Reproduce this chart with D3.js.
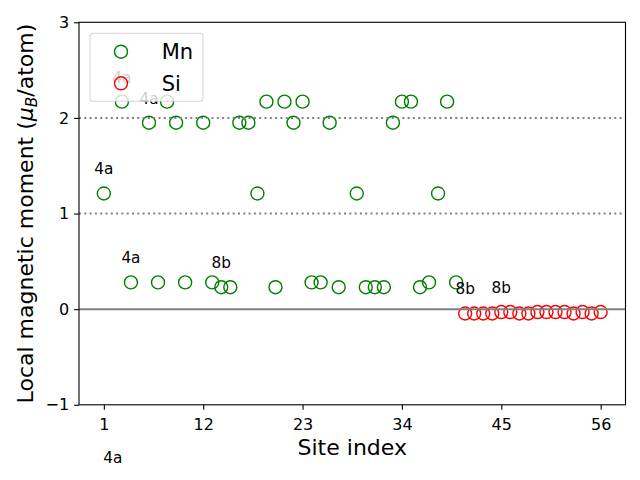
<!DOCTYPE html>
<html>
<head>
<meta charset="utf-8">
<script src="https://cdn.jsdelivr.net/npm/d3@7"></script>
<style>
  html, body { margin: 0; padding: 0; background: #fff; }
  svg { display: block; font-family: "DejaVu Sans", sans-serif; }
</style>
</head>
<body>
<svg id="chart" width="640" height="480"></svg>
<script>
// ---- data ----
const mnSites = [1,2,3,4,6,7,8,9,10,12,13,14,15,16,17,18,19,20,21,22,23,24,25,26,27,29,30,31,32,33,34,35,36,37,38,39,40];
const mnValues = [1.21,-1.81,2.17,0.28,1.95,0.28,2.17,1.95,0.28,1.95,0.28,0.23,0.23,1.95,1.95,1.21,2.17,0.23,2.17,1.95,2.17,0.28,0.28,1.95,0.23,1.21,0.23,0.23,0.23,1.95,2.17,2.17,0.23,0.28,1.21,2.17,0.28];
const siSites = [41,42,43,44,45,46,47,48,49,50,51,52,53,54,55,56];
const siValues = [-0.045,-0.045,-0.045,-0.045,-0.03,-0.03,-0.045,-0.045,-0.03,-0.03,-0.03,-0.03,-0.045,-0.03,-0.045,-0.03];
const labelSites = [1,2,3,4,6,14,41,45];
const labelTexts = ["4a","4a","4a","4a","4a","8b","8b","8b"];
const xTicks = [1,12,23,34,45,56];
const yTicks = [-1,0,1,2,3];
const refLinesDotted = [1,2];
const refLineSolid = 0;
const seriesNames = ["Mn","Si"];
const seriesColors = ["green","red"];

// ---- layout ----
const svg = d3.select("#chart");
const L = 79, R = 625.5, T = 22.3, B = 404.8;
const x = d3.scaleLinear().domain([-1.75, 58.75]).range([L, R]);
const y = d3.scaleLinear().domain([-1, 3]).range([B, T]);

svg.append("defs").append("clipPath").attr("id", "plotclip")
  .append("rect").attr("x", L).attr("y", T).attr("width", R - L).attr("height", B - T);

const plot = svg.append("g").attr("clip-path", "url(#plotclip)");

const mnData = mnSites.map((s, i) => ({site: s, v: mnValues[i]}));
const siData = siSites.map((s, i) => ({site: s, v: siValues[i]}));

const R0 = 6.5;
plot.selectAll("circle.mn").data(mnData).join("circle")
  .attr("class", "mn")
  .attr("cx", d => x(d.site)).attr("cy", d => y(d.v)).attr("r", R0)
  .attr("fill", "none").attr("stroke", seriesColors[0]).attr("stroke-width", 1.4);
plot.selectAll("circle.si").data(siData).join("circle")
  .attr("class", "si")
  .attr("cx", d => x(d.site)).attr("cy", d => y(d.v)).attr("r", R0)
  .attr("fill", "none").attr("stroke", seriesColors[1]).attr("stroke-width", 1.4);

// reference lines
plot.selectAll("line.dot").data(refLinesDotted).join("line")
  .attr("x1", L).attr("x2", R).attr("y1", d => y(d)).attr("y2", d => y(d))
  .attr("stroke", "gray").attr("stroke-width", 2).attr("stroke-dasharray", "2,3.3");
plot.append("line")
  .attr("x1", L).attr("x2", R).attr("y1", y(refLineSolid)).attr("y2", y(refLineSolid))
  .attr("stroke", "gray").attr("stroke-width", 2);

// annotations (text not clipped)
const allData = mnData.concat(siData);
const labels = labelSites.map((s, i) => ({site: s, text: labelTexts[i], v: allData.find(d => d.site === s).v}));
svg.append("g").selectAll("text").data(labels).join("text")
  .attr("x", d => x(d.site)).attr("y", d => y(d.v + 0.2))
  .attr("text-anchor", "middle").attr("font-size", 15.3).attr("fill", "#000")
  .text(d => d.text);

// frame
svg.append("rect").attr("x", L).attr("y", T).attr("width", R - L).attr("height", B - T)
  .attr("fill", "none").attr("stroke", "#000").attr("stroke-width", 1.1);

// axes
const xAxis = svg.append("g").attr("transform", `translate(0,${B})`)
  .call(d3.axisBottom(x).tickValues(xTicks).tickSize(4.9).tickPadding(5));
const yAxis = svg.append("g").attr("transform", `translate(${L},0)`)
  .call(d3.axisLeft(y).tickValues(yTicks).tickSize(4.9).tickPadding(5).tickFormat(d => d < 0 ? "\u2212" + Math.abs(d) : d));
[xAxis, yAxis].forEach(a => {
  a.select(".domain").remove();
  a.selectAll("line").attr("stroke", "#000").attr("stroke-width", 1.1);
  a.selectAll("text").attr("font-size", 16).attr("fill", "#000").attr("font-family", "DejaVu Sans");
});
xAxis.selectAll("text").attr("dy", "0.95em");

// axis labels
svg.append("text").attr("x", (L + R) / 2).attr("y", 455).attr("text-anchor", "middle")
  .attr("font-size", 22).text("Site index");
const yl = svg.append("text").attr("transform", `translate(33,${(T + B) / 2}) rotate(-90)`)
  .attr("text-anchor", "middle").attr("font-size", 22);
yl.append("tspan").text("Local magnetic moment (");
yl.append("tspan").attr("font-style", "italic").text("\u03bc");
yl.append("tspan").attr("font-style", "italic").attr("font-size", 15.4).attr("dy", 4).text("B");
yl.append("tspan").attr("dy", -4).text("/atom)");

// legend
const lg = svg.append("g");
lg.append("rect").attr("x", 90).attr("y", 33.3).attr("width", 113).attr("height", 68).attr("rx", 3)
  .attr("fill", "#fff").attr("fill-opacity", 0.8).attr("stroke", "#cccccc").attr("stroke-opacity", 0.8).attr("stroke-width", 1.1);
const lgY = [51.7, 83.3];
seriesNames.forEach((n, i) => {
  lg.append("circle").attr("cx", 121).attr("cy", lgY[i]).attr("r", R0)
    .attr("fill", "none").attr("stroke", seriesColors[i]).attr("stroke-width", 1.4);
  lg.append("text").attr("x", 161.7).attr("y", lgY[i] + 7.5).attr("font-size", 21).text(n);
});
</script>
</body>
</html>
